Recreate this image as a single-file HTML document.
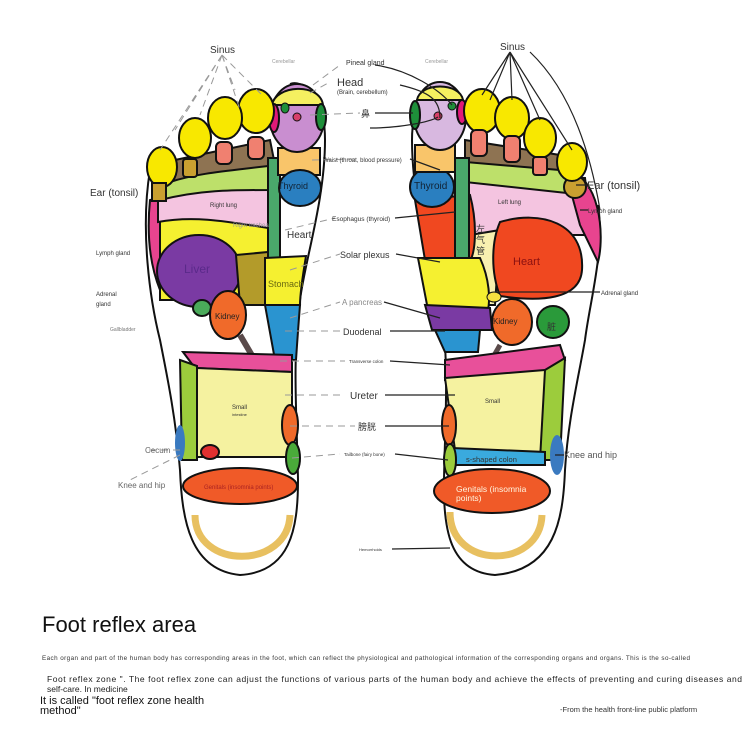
<!DOCTYPE html>
<html><head><meta charset="utf-8"><style>
body{margin:0;background:#fff;width:750px;height:756px;overflow:hidden}
svg{position:absolute;left:0;top:0}
text{font-family:"Liberation Sans","Noto Sans CJK SC",sans-serif}
</style></head><body>
<svg width="750" height="756" viewBox="0 0 750 756">
<g stroke="#111" stroke-width="2">
<!-- LEFT FOOT outline -->
<path d="M150,170 C140,230 150,300 160,340 C168,380 176,420 180,470 C182,520 190,570 240,575 C290,572 298,530 298,480 C297,420 292,360 300,300 C305,260 325,200 325,140 C325,90 300,80 290,84" fill="#fff"/>
<!-- regions -->
<path d="M150,200 C146,240 152,270 160,290 L170,290 L170,195 Z" fill="#e8448f"/>
<path d="M160,220 L268,215 L268,300 L160,300 Z" fill="#f5f030"/>
<path d="M158,190 C200,180 240,185 268,180 L268,228 C230,222 195,215 158,222 Z" fill="#f4c4e0"/>
<path d="M160,178 C200,165 240,162 270,160 L270,190 C230,190 200,190 160,200 Z" fill="#bde06a"/>
<path d="M175,160 L270,140 L275,165 C240,170 200,172 170,182 Z" fill="#8e7352"/>
<ellipse cx="199" cy="271" rx="42" ry="36" fill="#7a3aa3"/>
<path d="M236,255 L268,252 L268,305 L240,305 Z" fill="#b39b2a"/>
<rect x="268" y="158" width="12" height="100" fill="#4aa86b"/>
<path d="M278,148 L320,148 L320,175 L278,175 Z" fill="#f9c56a"/>
<ellipse cx="300" cy="188" rx="21" ry="18" fill="#2a7fc0"/>
<path d="M265,258 L306,256 C302,280 300,295 300,305 L265,305 Z" fill="#f5f030"/>
<path d="M265,305 L300,305 C298,330 297,345 296,360 L275,360 Z" fill="#2a94d0"/>
<ellipse cx="297" cy="118" rx="27" ry="34" fill="#c98ed0"/>
<path d="M272,105 C275,85 320,82 323,105 Z" fill="#f5f060"/>
<ellipse cx="274" cy="118" rx="5" ry="14" fill="#e01a78"/>
<ellipse cx="321" cy="117" rx="5" ry="13" fill="#1e8f3a"/>
<ellipse cx="285" cy="108" rx="4" ry="5" fill="#1e8f3a" stroke-width="1"/>
<ellipse cx="297" cy="117" rx="4" ry="4" fill="#d8406a" stroke-width="1"/>
<ellipse cx="256" cy="111" rx="18" ry="22" fill="#f8e800"/>
<ellipse cx="225" cy="118" rx="17" ry="21" fill="#f8e800"/>
<ellipse cx="195" cy="138" rx="16" ry="20" fill="#f8e800"/>
<ellipse cx="162" cy="167" rx="15" ry="20" fill="#f8e800"/>
<rect x="248" y="137" width="16" height="22" rx="5" fill="#f08070"/>
<rect x="216" y="142" width="16" height="22" rx="5" fill="#f08070"/>
<rect x="183" y="159" width="14" height="18" rx="3" fill="#c9a030"/>
<rect x="152" y="183" width="14" height="18" fill="#c9a030"/>
<ellipse cx="202" cy="308" rx="9" ry="8" fill="#4aaa5a"/>
<ellipse cx="228" cy="315" rx="18" ry="24" fill="#f06a2a"/>
<line x1="240" y1="335" x2="290" y2="420" stroke="#5a4a4a" stroke-width="6"/>
<path d="M183,352 L292,355 L292,372 L195,368 Z" fill="#e8509a"/>
<path d="M197,368 L292,372 L292,457 L197,457 Z" fill="#f5f2a0"/>
<path d="M180,360 L197,366 L197,460 L182,460 Z" fill="#9ccc3c"/>
<ellipse cx="210" cy="452" rx="9" ry="7" fill="#e03030"/>
<ellipse cx="290" cy="425" rx="8" ry="20" fill="#f06a2a"/>
<ellipse cx="293" cy="458" rx="7" ry="16" fill="#4aaa3a"/>
<ellipse cx="180" cy="443" rx="5" ry="18" fill="#3a7ac0" stroke="none"/>
<ellipse cx="240" cy="486" rx="57" ry="18" fill="#f05a28"/>
<path d="M195,515 C195,570 288,570 290,515" fill="none" stroke="#e8c060" stroke-width="7"/>

<!-- RIGHT FOOT outline -->
<path d="M598,205 C605,250 590,300 585,340 C578,380 568,420 565,470 C563,520 555,570 495,575 C450,572 443,530 444,480 C445,420 450,360 440,300 C430,260 412,200 412,140 C412,90 440,80 450,84" fill="#fff"/>
<path d="M465,175 L585,178 L592,235 L465,235 Z" fill="#f4c4e0"/>
<path d="M465,160 L560,165 L585,195 L465,182 Z" fill="#bde06a"/>
<path d="M465,140 L560,155 L560,170 L465,162 Z" fill="#8e7352"/>
<path d="M565,170 C600,175 605,235 598,262 L580,225 Z" fill="#e8448f"/>
<ellipse cx="575" cy="187" rx="11" ry="11" fill="#c9a030"/>
<path d="M470,235 L500,230 L495,305 L470,305 Z" fill="#f8f0b0"/>
<path d="M500,222 C540,210 585,222 582,270 C580,300 540,302 500,296 C490,270 492,240 500,222 Z" fill="#f04820"/>
<path d="M415,200 L470,195 C478,225 475,255 470,260 L425,260 Z" fill="#f04820"/>
<ellipse cx="432" cy="187" rx="22" ry="20" fill="#2a7fc0"/>
<path d="M415,145 L455,145 L455,172 L415,172 Z" fill="#f9c56a"/>
<rect x="455" y="158" width="14" height="100" fill="#4aa86b"/>
<path d="M418,258 L480,258 C490,280 490,300 488,310 L428,310 Z" fill="#f5f030"/>
<path d="M425,305 L490,308 L492,330 L432,330 Z" fill="#7a3aa3"/>
<path d="M435,330 L480,330 L478,352 L445,352 Z" fill="#2a94d0"/>
<ellipse cx="440" cy="116" rx="26" ry="34" fill="#d8b8e0"/>
<path d="M417,100 C420,82 460,82 463,100 Z" fill="#f5f060"/>
<ellipse cx="415" cy="115" rx="5" ry="14" fill="#1e8f3a"/>
<ellipse cx="462" cy="112" rx="5" ry="12" fill="#e01a78"/>
<ellipse cx="452" cy="106" rx="4" ry="4" fill="#1e8f3a" stroke-width="1"/>
<ellipse cx="438" cy="116" rx="4" ry="4" fill="#d8406a" stroke-width="1"/>
<ellipse cx="482" cy="111" rx="18" ry="22" fill="#f8e800"/>
<ellipse cx="512" cy="118" rx="17" ry="21" fill="#f8e800"/>
<ellipse cx="540" cy="138" rx="16" ry="20" fill="#f8e800"/>
<ellipse cx="572" cy="162" rx="15" ry="19" fill="#f8e800"/>
<rect x="471" y="130" width="16" height="26" rx="5" fill="#f08070"/>
<rect x="504" y="136" width="16" height="26" rx="5" fill="#f08070"/>
<rect x="533" y="157" width="14" height="18" rx="3" fill="#f08070"/>
<ellipse cx="553" cy="322" rx="16" ry="16" fill="#2a9a3a"/>
<ellipse cx="494" cy="297" rx="7" ry="5" fill="#f5e040" stroke-width="1"/>
<ellipse cx="512" cy="322" rx="20" ry="23" fill="#f06a2a"/>
<line x1="500" y1="345" x2="452" y2="430" stroke="#5a4a4a" stroke-width="5"/>
<path d="M445,360 L560,345 L565,360 L545,372 L445,380 Z" fill="#e8509a"/>
<path d="M445,378 L545,370 L545,455 L455,450 Z" fill="#f5f2a0"/>
<path d="M545,370 L565,358 L560,460 L540,460 Z" fill="#9ccc3c"/>
<path d="M452,448 L545,452 L545,465 L455,465 Z" fill="#3aaade"/>
<ellipse cx="449" cy="425" rx="7" ry="20" fill="#f06a2a"/>
<ellipse cx="450" cy="460" rx="6" ry="16" fill="#9ccc3c"/>
<ellipse cx="557" cy="455" rx="7" ry="20" fill="#3a7ac0" stroke="none"/>
<ellipse cx="492" cy="491" rx="58" ry="22" fill="#f05a28"/>
<path d="M450,512 C450,570 540,570 542,515" fill="none" stroke="#e8c060" stroke-width="7"/>
</g>

<!-- connectors -->
<g stroke="#999" stroke-width="1" stroke-dasharray="7,5" fill="none">
<path d="M222,55 L175,130 M222,55 L200,115 M222,55 L235,90 M222,55 L262,95 M222,55 L160,150 M222,55 L240,110"/>
<path d="M310,115 L360,113 M312,160 L355,159 M285,230 L335,218 M290,270 L340,254 M290,318 L340,302 M285,331 L340,331 M280,361 L345,361 M285,395 L345,395 M290,426 L355,426 M292,458 L340,454 M180,450 L145,450 M180,455 L130,480 M310,93 L330,82 M313,85 L340,65"/>
</g>
<g stroke="#222" stroke-width="1.2" fill="none">
<path d="M510,52 L482,95 M510,52 L512,100 M510,52 L540,120 M510,52 L572,150 M510,52 L490,100"/>
<path d="M375,65 C410,70 440,90 452,105 M400,85 C430,92 440,100 440,118 M375,113 L413,113 M370,128 C400,128 430,122 438,117 M410,159 L440,170 M395,218 L455,212 M396,254 L440,262 M384,302 L440,318 M390,331 L445,331 M390,361 L450,365 M385,395 L455,395 M385,426 L449,426 M395,454 L448,460 M392,549 L450,548 M576,185 L588,185 M580,210 L588,210 M495,292 L600,292 M555,455 L564,455"/>
<path d="M530,52 C570,90 590,150 600,210"/>
</g>

<!-- labels -->
<g fill="#333">
<text x="210" y="53" font-size="10">Sinus</text>
<text x="272" y="63" font-size="5" fill="#999">Cerebellar</text>
<text x="346" y="65" font-size="7">Pineal gland</text>
<text x="337" y="86" font-size="11">Head</text>
<text x="337" y="94" font-size="6">(Brain, cerebellum)</text>
<text x="361" y="117" font-size="9">鼻</text>
<text x="323" y="162" font-size="6">Waist (throat, blood pressure)</text>
<text x="332" y="221" font-size="6.5">Esophagus (thyroid)</text>
<text x="340" y="258" font-size="9">Solar plexus</text>
<text x="342" y="305" font-size="8" fill="#888">A pancreas</text>
<text x="343" y="335" font-size="9">Duodenal</text>
<text x="349" y="363" font-size="4.5">Transverse colon</text>
<text x="350" y="399" font-size="10">Ureter</text>
<text x="358" y="430" font-size="9">膀胱</text>
<text x="344" y="456" font-size="4.5">Tailbone (fairy bone)</text>
<text x="359" y="551" font-size="4">Hemorrhoids</text>
<text x="500" y="50" font-size="10">Sinus</text>
<text x="425" y="63" font-size="5" fill="#999">Cerebellar</text>
<text x="90" y="196" font-size="10">Ear (tonsil)</text>
<text x="587" y="189" font-size="11">Ear (tonsil)</text>
<text x="588" y="213" font-size="6">Lymph gland</text>
<text x="96" y="255" font-size="6">Lymph gland</text>
<text x="96" y="296" font-size="6">Adrenal</text>
<text x="96" y="306" font-size="6">gland</text>
<text x="110" y="331" font-size="5" fill="#777">Gallbladder</text>
<text x="145" y="453" font-size="8" fill="#666">Cecum</text>
<text x="118" y="488" font-size="8" fill="#666">Knee and hip</text>
<text x="564" y="458" font-size="9" fill="#555">Knee and hip</text>
<text x="601" y="295" font-size="6">Adrenal gland</text>
<text x="184" y="273" font-size="12" fill="#5a2a8a">Liver</text>
<text x="268" y="287" font-size="9" fill="#6a6a10">Stomach</text>
<text x="287" y="238" font-size="10">Heart</text>
<text x="278" y="189" font-size="9" fill="#123">Thyroid</text>
<text x="210" y="207" font-size="6">Right lung</text>
<text x="233" y="227" font-size="6" fill="#999">Right trachea</text>
<text x="215" y="319" font-size="8" fill="#222">Kidney</text>
<text x="232" y="409" font-size="6">Small</text>
<text x="232" y="416" font-size="4">intestine</text>
<text x="204" y="489" font-size="6" fill="#a22">Genitals (insomnia points)</text>
<text x="414" y="189" font-size="10" fill="#123">Thyroid</text>
<text x="498" y="204" font-size="6">Left lung</text>
<text x="513" y="265" font-size="11" fill="#8a1010">Heart</text>
<text x="493" y="324" font-size="8" fill="#222">Kidney</text>
<text x="485" y="403" font-size="6">Small</text>
<text x="466" y="462" font-size="7.5">s-shaped colon</text>
<text x="456" y="492" font-size="8.5" fill="#fff5e0">Genitals (insomnia</text>
<text x="456" y="501" font-size="8.5" fill="#fff5e0">points)</text>
<text x="476" y="232" font-size="9">左</text>
<text x="476" y="243" font-size="9">气</text>
<text x="476" y="254" font-size="9">管</text>
<text x="547" y="330" font-size="9">脏</text>
</g>

<!-- bottom text -->
<text x="42" y="632" font-size="22" fill="#111">Foot reflex area</text>
<text x="42" y="660" font-size="6.3" fill="#333" textLength="648">Each organ and part of the human body has corresponding areas in the foot, which can reflect the physiological and pathological information of the corresponding organs and organs. This is the so-called</text>
<text x="47" y="682" font-size="8.5" fill="#222" textLength="695">Foot reflex zone ". The foot reflex zone can adjust the functions of various parts of the human body and achieve the effects of preventing and curing diseases and</text>
<text x="47" y="692" font-size="8.5" fill="#222">self-care. In medicine</text>
<text x="40" y="704" font-size="11" fill="#111">It is called "foot reflex zone health</text>
<text x="40" y="714" font-size="11" fill="#111">method"</text>
<text x="560" y="712" font-size="7.5" fill="#333">-From the health front-line public platform</text>
</svg>
</body></html>
